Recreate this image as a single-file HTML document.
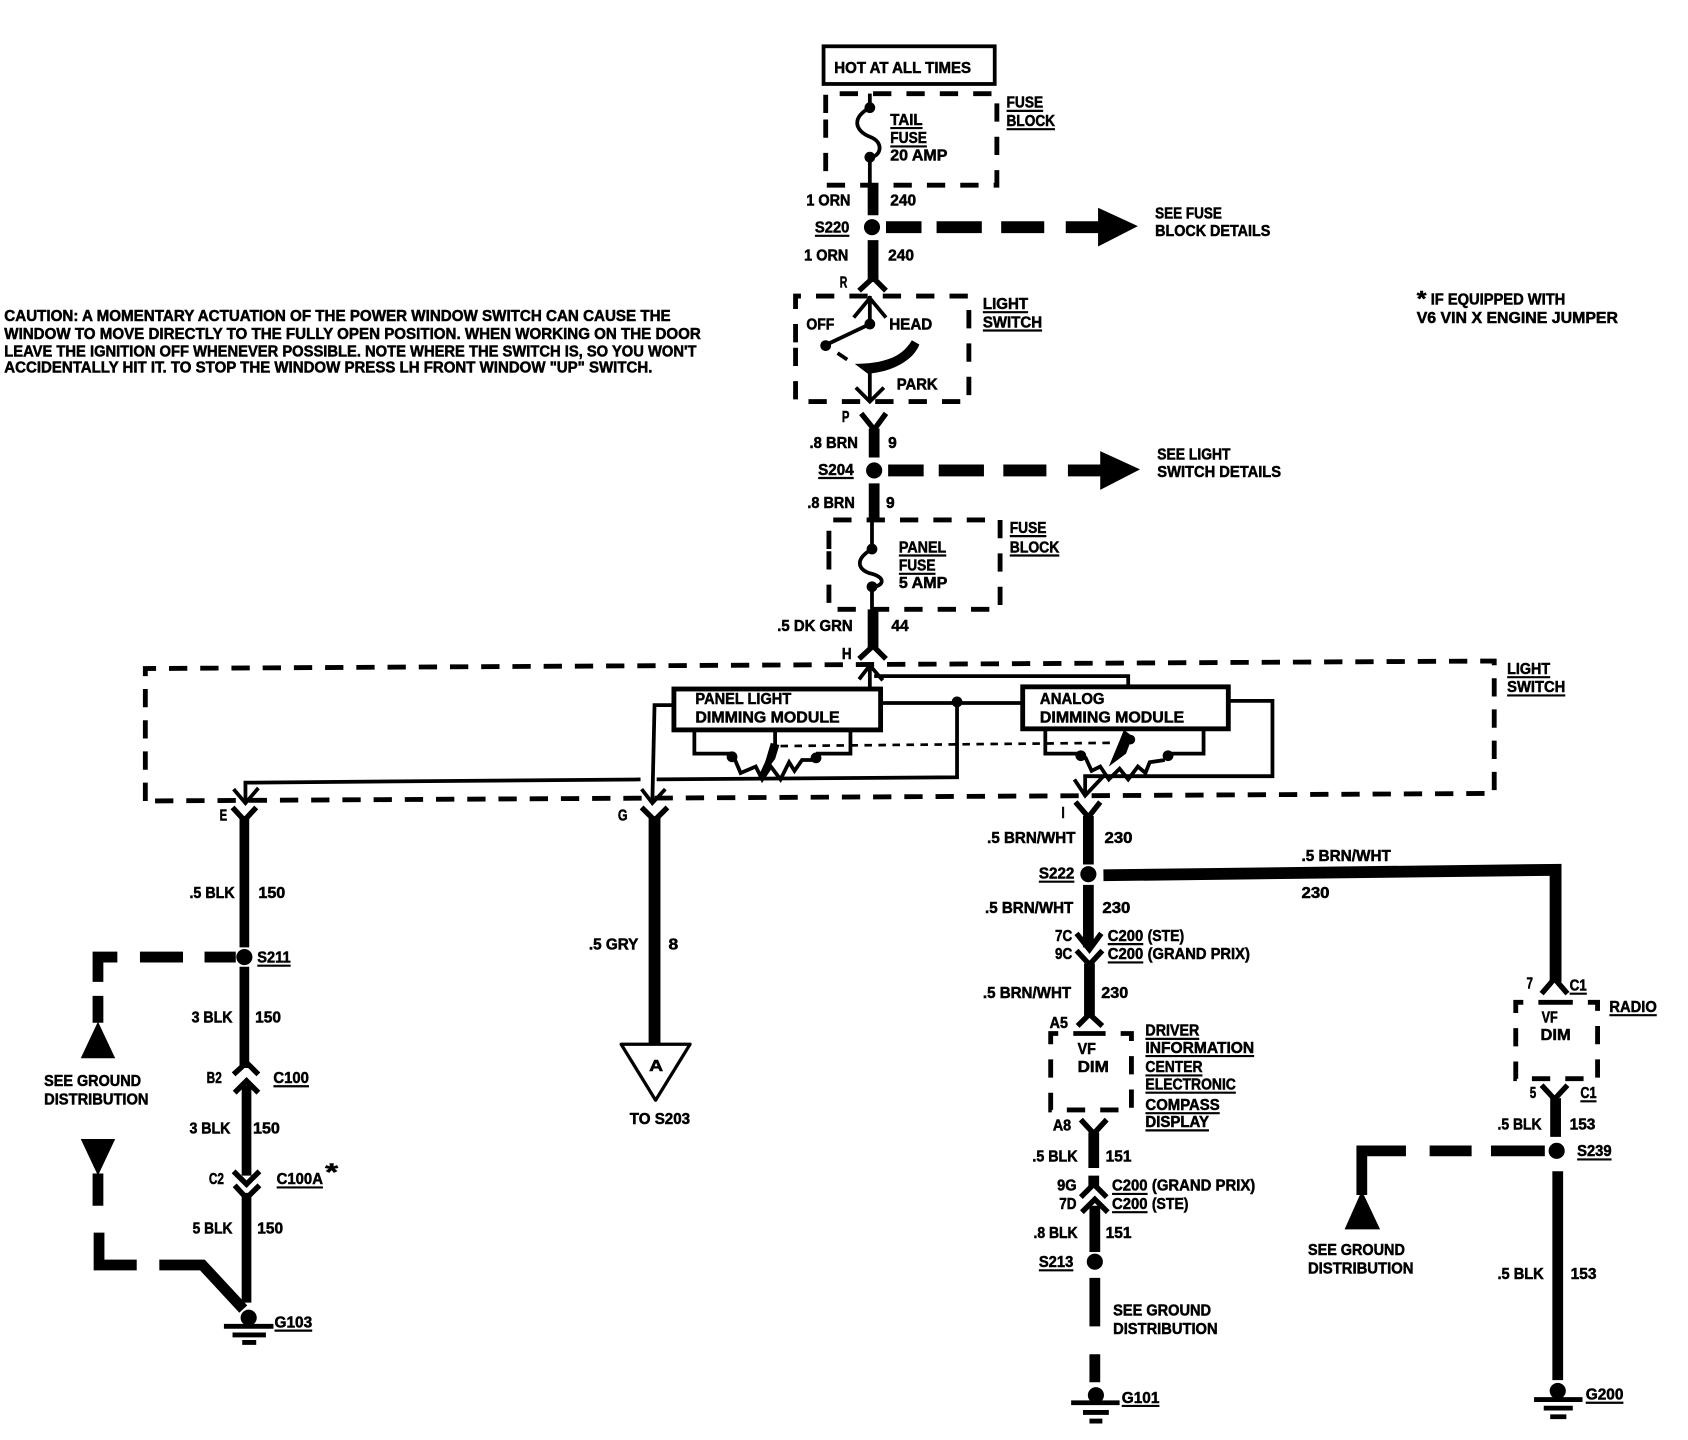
<!DOCTYPE html>
<html><head><meta charset="utf-8"><style>
html,body{margin:0;padding:0;background:#fff}
svg{display:block}
text{font-family:"Liberation Sans",sans-serif;font-weight:bold;font-size:15px;fill:#000;stroke:#000;stroke-width:.5}
.w{fill:none;stroke:#000;stroke-linecap:butt;stroke-linejoin:miter}
.t{stroke-width:10}.c{stroke-width:5}.n{stroke-width:3.5}.d{stroke-width:4.5}.u{stroke-width:2}
</style></head><body>
<svg width="1688" height="1440" viewBox="0 0 1568 1337.6" xmlns="http://www.w3.org/2000/svg" preserveAspectRatio="none">
<rect width="1568" height="1338" fill="#fff"/>
<!-- top -->
<rect x="765" y="43" width="159" height="35" class="w n"/>
<path class="w d" stroke-dasharray="17 14" d="M767 105V87H926V172H767V105"/>
<path class="w n" d="M808 87V100M808 100C790 110 795 122 808 127C822 132 818 146 808 146V172"/>
<circle cx="808" cy="100" r="5"/><circle cx="808" cy="146" r="5"/>
<path class="w t" d="M811 172V200M811 223V262"/>
<circle cx="810" cy="211" r="7.5"/>
<path class="w c" d="M798 270L811 258L823 270"/>
<path class="w" stroke-width="11" d="M823 211H856M870 211H912M930 211H970M990 211H1022"/>
<path d="M1020 193L1057 210L1020 229Z"/>
<!-- light switch -->
<path class="w d" stroke-dasharray="17 14" d="M739 318V275H900V373H739V318"/>
<path class="w n" d="M808 275V301M793 295L808 277L823 295M808 301L768 320M808 342V373M795 360L808 373L821 360"/>
<path class="w n" d="M778 328L787 334"/>
<circle cx="808" cy="301" r="5"/><circle cx="767" cy="321" r="5"/>
<path d="M847 316L854 320C848 336 826 346 806 347L794 338C820 338 838 332 847 316Z"/>
<path class="w c" d="M800 384L812 399L823 384"/>
<path class="w t" d="M812 398V425M812 449V484"/>
<circle cx="812" cy="437" r="7.5"/>
<path class="w" stroke-width="11" d="M825 437H858M872 437H914M932 437H972M992 437H1024"/>
<path d="M1022 419L1059 436L1022 455Z"/>
<!-- panel fuse -->
<path class="w d" stroke-dasharray="17 14" d="M770 510V483H929V566H770V510"/>
<path class="w n" d="M810 484V510M810 510C793 520 797 530 810 533C824 537 820 545 810 545V566"/>
<circle cx="810" cy="510" r="5"/><circle cx="810" cy="545" r="5"/>
<path class="w t" d="M811 566V603"/>
<path class="w c" d="M798 612L811 600L823 612"/>
<!-- big light switch -->
<path class="w d" stroke-dasharray="17 12" d="M135 744L135 621L1388 614L1388 737L135 744"/>
<path class="w n" d="M808 617V640M798 631L808 618L820 632M812 628H1048V638"/>
<rect x="626" y="640" width="192" height="38" class="w" stroke-width="4.5"/>
<rect x="950" y="638" width="191" height="39" class="w" stroke-width="4.5"/>
<path class="w n" d="M818 653H950M889 652V722L610 724M595 724L228 727V745M217 733L228 746L240 732M626 655H608L606 744M596 733L606 746L618 733M1141 651H1182V721H1008L1008 739M998 724L1008 739L1025 721"/>
<circle cx="889" cy="652" r="5"/>
<path class="w n" d="M645 678V700H680M790 678V700H758"/>
<circle cx="680" cy="703" r="5"/><circle cx="758" cy="704" r="5"/>
<path class="w n" d="M682 704L688 718L702 712L708 724L716 712L725 724L733 708L738 716L745 706H756"/>
<path class="w n" d="M720 678V692L706 722"/>
<path d="M716 690L724 692L720 705L706 724Z"/>
<path class="w" stroke-width="2.5" stroke-dasharray="7 6" d="M725 693L1034 690"/>
<path class="w n" d="M971 677V700H1004M1118 677V700H1085"/>
<circle cx="1004" cy="702" r="5"/><circle cx="1085" cy="702" r="5"/>
<path class="w n" d="M1008 703L1014 716L1022 712L1030 724L1040 714L1048 724L1057 712L1064 718L1068 708L1082 706"/>
<path d="M1044 678L1052 684L1046 700L1030 712L1040 688Z"/>
<circle cx="1050" cy="687" r="4.5"/>
<!-- E -->
<path class="w c" d="M216 750L227 762L238 750"/>
<path class="w" stroke-width="9" d="M227 758V880M227 898V992M229 1008V1092M229 1108V1210"/>
<circle cx="227" cy="889" r="7.5"/>
<path class="w c" d="M217 998L229 987L240 998M218 1015L229 1004L240 1015M217 1088L229 1100L241 1088M218 1101L229 1113L241 1101"/>
<path class="w" stroke-width="10" d="M219 889H190M170 889H130M109 889H91V912M91 925V950M91 1090V1120M92 1145V1175H127M148 1175H188L226 1216"/>
<path d="M75 983L107 983L91 949Z"/><path d="M75 1058L107 1058L91 1092Z"/>
<circle cx="231" cy="1224" r="7.5"/>
<path class="w d" d="M208 1232H254M216 1240H247M225 1247H238"/>
<!-- G -->
<path class="w c" d="M596 750L608 762L620 750"/>
<path class="w" stroke-width="11" d="M608 758V970"/>
<path d="M577 970H641L609 1022Z" fill="#fff" stroke="#000" stroke-width="3" stroke-linejoin="round"/>
<!-- I -->
<path class="w c" d="M999 745L1011 759L1022 745"/>
<path class="w t" d="M1011 758V803M1011 822V880M1012 895V945"/>
<circle cx="1011" cy="812" r="7.5"/>
<path class="w" stroke-width="11" d="M1025 813L1445 808V912"/>
<path class="w c" d="M1000 867L1012 882L1023 867M1000 883L1012 896L1024 883M1001 953L1012 942L1024 953M1432 923L1444 909L1456 923"/>
<path class="w d" stroke-dasharray="17 14" d="M1014 960H976V1031H1051V960H1014"/>
<path class="w c" d="M1004 1040L1016 1053L1028 1040M1004 1112L1016 1100L1028 1112M1005 1126L1017 1114L1029 1126"/>
<path class="w t" d="M1016 1052V1085M1016 1092V1102M1017 1120V1163M1017 1187V1232M1017 1258V1284"/>
<circle cx="1017" cy="1172" r="7.5"/>
<circle cx="1018" cy="1296" r="7.5"/>
<path class="w d" d="M995 1303H1040M1006 1312H1030M1012 1320H1024"/>
<!-- radio -->
<path class="w d" stroke-dasharray="17 14" d="M1446 931H1408V1002H1484V931H1446"/>
<path class="w c" d="M1432 1008L1444 1021L1456 1008"/>
<path class="w t" d="M1445 1020V1056M1447 1088V1282"/>
<circle cx="1446" cy="1069" r="7.5"/>
<path class="w" stroke-width="10" d="M1435 1069H1385M1367 1069H1328M1306 1069H1265V1110"/>
<path d="M1249 1142L1265 1106L1282 1142Z"/>
<circle cx="1447" cy="1292" r="7.5"/>
<path class="w d" d="M1425 1300H1470M1434 1308H1461M1440 1316H1455"/>
<!-- underlines -->
<path class="w u" d="M935 103H969M935 120H980M827 119H857M827 136H861M757 219H789M913 290H955M913 307H968M760 444H793M938 498H972M938 516H984M835 516H879M835 533H869M1400 629H1440M1400 646H1454M239 897H270M254 1009H287M257 1103H300M255 1236H290M965 819H998M1029 877H1062M1029 894H1062M1064 965H1114M1064 981H1165M1064 999H1117M1064 1015H1148M1064 1034H1133M1064 1050H1123M1033 1109H1066M1033 1126H1066M965 1180H997M1042 1306H1077M1458 923H1474M1495 943H1539M1468 1023H1483M1465 1077H1497M1473 1303H1508"/>
<!-- text -->
<text x="775" y="68" textLength="127" lengthAdjust="spacingAndGlyphs">HOT AT ALL TIMES</text>
<text x="935" y="100" textLength="34" lengthAdjust="spacingAndGlyphs">FUSE</text>
<text x="935" y="117" textLength="45" lengthAdjust="spacingAndGlyphs">BLOCK</text>
<text x="827" y="116" textLength="30" lengthAdjust="spacingAndGlyphs">TAIL</text>
<text x="827" y="133" textLength="34" lengthAdjust="spacingAndGlyphs">FUSE</text>
<text x="827" y="149" textLength="53" lengthAdjust="spacingAndGlyphs">20 AMP</text>
<text x="749" y="191" textLength="41" lengthAdjust="spacingAndGlyphs">1 ORN</text>
<text x="827" y="191" textLength="24" lengthAdjust="spacingAndGlyphs">240</text>
<text x="757" y="216" textLength="32" lengthAdjust="spacingAndGlyphs">S220</text>
<text x="747" y="242" textLength="41" lengthAdjust="spacingAndGlyphs">1 ORN</text>
<text x="825" y="242" textLength="24" lengthAdjust="spacingAndGlyphs">240</text>
<text x="780" y="267" textLength="7" lengthAdjust="spacingAndGlyphs">R</text>
<text x="1073" y="203" textLength="62" lengthAdjust="spacingAndGlyphs">SEE FUSE</text>
<text x="1073" y="219" textLength="107" lengthAdjust="spacingAndGlyphs">BLOCK DETAILS</text>
<text x="913" y="287" textLength="42" lengthAdjust="spacingAndGlyphs">LIGHT</text>
<text x="913" y="304" textLength="55" lengthAdjust="spacingAndGlyphs">SWITCH</text>
<text x="749" y="306" textLength="26" lengthAdjust="spacingAndGlyphs">OFF</text>
<text x="826" y="306" textLength="40" lengthAdjust="spacingAndGlyphs">HEAD</text>
<text x="833" y="362" textLength="38" lengthAdjust="spacingAndGlyphs">PARK</text>
<text x="782" y="392" textLength="7" lengthAdjust="spacingAndGlyphs">P</text>
<text x="752" y="416" textLength="45" lengthAdjust="spacingAndGlyphs">.8 BRN</text>
<text x="825" y="416" textLength="8" lengthAdjust="spacingAndGlyphs">9</text>
<text x="760" y="441" textLength="33" lengthAdjust="spacingAndGlyphs">S204</text>
<text x="750" y="472" textLength="44" lengthAdjust="spacingAndGlyphs">.8 BRN</text>
<text x="823" y="472" textLength="8" lengthAdjust="spacingAndGlyphs">9</text>
<text x="1075" y="427" textLength="68" lengthAdjust="spacingAndGlyphs">SEE LIGHT</text>
<text x="1075" y="443" textLength="115" lengthAdjust="spacingAndGlyphs">SWITCH DETAILS</text>
<text x="938" y="495" textLength="34" lengthAdjust="spacingAndGlyphs">FUSE</text>
<text x="938" y="513" textLength="46" lengthAdjust="spacingAndGlyphs">BLOCK</text>
<text x="835" y="513" textLength="44" lengthAdjust="spacingAndGlyphs">PANEL</text>
<text x="835" y="530" textLength="34" lengthAdjust="spacingAndGlyphs">FUSE</text>
<text x="835" y="546" textLength="45" lengthAdjust="spacingAndGlyphs">5 AMP</text>
<text x="722" y="586" textLength="70" lengthAdjust="spacingAndGlyphs">.5 DK GRN</text>
<text x="828" y="586" textLength="16" lengthAdjust="spacingAndGlyphs">44</text>
<text x="782" y="612" textLength="9" lengthAdjust="spacingAndGlyphs">H</text>
<text x="1400" y="626" textLength="40" lengthAdjust="spacingAndGlyphs">LIGHT</text>
<text x="1400" y="643" textLength="54" lengthAdjust="spacingAndGlyphs">SWITCH</text>
<text x="646" y="654" textLength="89" lengthAdjust="spacingAndGlyphs">PANEL LIGHT</text>
<text x="646" y="671" textLength="134" lengthAdjust="spacingAndGlyphs">DIMMING MODULE</text>
<text x="966" y="654" textLength="60" lengthAdjust="spacingAndGlyphs">ANALOG</text>
<text x="966" y="671" textLength="134" lengthAdjust="spacingAndGlyphs">DIMMING MODULE</text>
<text x="1316" y="284" textLength="9" lengthAdjust="spacingAndGlyphs" style="font-size:20px">*</text>
<text x="1329" y="283" textLength="125" lengthAdjust="spacingAndGlyphs">IF EQUIPPED WITH</text>
<text x="1316" y="300" textLength="187" lengthAdjust="spacingAndGlyphs">V6 VIN X ENGINE JUMPER</text>
<text x="4" y="298" textLength="619" lengthAdjust="spacingAndGlyphs">CAUTION: A MOMENTARY ACTUATION OF THE POWER WINDOW SWITCH CAN CAUSE THE</text>
<text x="4" y="315" textLength="647" lengthAdjust="spacingAndGlyphs">WINDOW TO MOVE DIRECTLY TO THE  FULLY OPEN POSITION. WHEN WORKING ON THE DOOR</text>
<text x="4" y="331" textLength="643" lengthAdjust="spacingAndGlyphs">LEAVE THE IGNITION OFF WHENEVER POSSIBLE. NOTE WHERE THE SWITCH IS, SO YOU WON'T</text>
<text x="4" y="346" textLength="602" lengthAdjust="spacingAndGlyphs">ACCIDENTALLY HIT IT. TO STOP THE WINDOW PRESS LH FRONT WINDOW "UP" SWITCH.</text>
<text x="204" y="762" textLength="7" lengthAdjust="spacingAndGlyphs">E</text>
<text x="574" y="762" textLength="9" lengthAdjust="spacingAndGlyphs">G</text>
<text x="986" y="760" textLength="3" lengthAdjust="spacingAndGlyphs">I</text>
<text x="176" y="834" textLength="42" lengthAdjust="spacingAndGlyphs">.5 BLK</text>
<text x="240" y="834" textLength="25" lengthAdjust="spacingAndGlyphs">150</text>
<text x="239" y="894" textLength="31" lengthAdjust="spacingAndGlyphs">S211</text>
<text x="178" y="950" textLength="38" lengthAdjust="spacingAndGlyphs">3 BLK</text>
<text x="237" y="950" textLength="24" lengthAdjust="spacingAndGlyphs">150</text>
<text x="192" y="1006" textLength="14" lengthAdjust="spacingAndGlyphs">B2</text>
<text x="254" y="1006" textLength="33" lengthAdjust="spacingAndGlyphs">C100</text>
<text x="176" y="1053" textLength="38" lengthAdjust="spacingAndGlyphs">3 BLK</text>
<text x="235" y="1053" textLength="25" lengthAdjust="spacingAndGlyphs">150</text>
<text x="194" y="1100" textLength="14" lengthAdjust="spacingAndGlyphs">C2</text>
<text x="257" y="1100" textLength="43" lengthAdjust="spacingAndGlyphs">C100A</text>
<text x="302" y="1096" textLength="12" lengthAdjust="spacingAndGlyphs" style="font-size:22px">*</text>
<text x="179" y="1146" textLength="37" lengthAdjust="spacingAndGlyphs">5 BLK</text>
<text x="239" y="1146" textLength="24" lengthAdjust="spacingAndGlyphs">150</text>
<text x="255" y="1233" textLength="35" lengthAdjust="spacingAndGlyphs">G103</text>
<text x="41" y="1009" textLength="90" lengthAdjust="spacingAndGlyphs">SEE GROUND</text>
<text x="41" y="1026" textLength="97" lengthAdjust="spacingAndGlyphs">DISTRIBUTION</text>
<text x="547" y="882" textLength="46" lengthAdjust="spacingAndGlyphs">.5 GRY</text>
<text x="621" y="882" textLength="9" lengthAdjust="spacingAndGlyphs">8</text>
<text x="603" y="995" textLength="13" lengthAdjust="spacingAndGlyphs">A</text>
<text x="585" y="1044" textLength="56" lengthAdjust="spacingAndGlyphs">TO S203</text>
<text x="917" y="783" textLength="82" lengthAdjust="spacingAndGlyphs">.5 BRN/WHT</text>
<text x="1026" y="783" textLength="26" lengthAdjust="spacingAndGlyphs">230</text>
<text x="965" y="816" textLength="33" lengthAdjust="spacingAndGlyphs">S222</text>
<text x="1209" y="800" textLength="83" lengthAdjust="spacingAndGlyphs">.5 BRN/WHT</text>
<text x="1209" y="834" textLength="26" lengthAdjust="spacingAndGlyphs">230</text>
<text x="915" y="848" textLength="82" lengthAdjust="spacingAndGlyphs">.5 BRN/WHT</text>
<text x="1024" y="848" textLength="26" lengthAdjust="spacingAndGlyphs">230</text>
<text x="980" y="874" textLength="16" lengthAdjust="spacingAndGlyphs">7C</text>
<text x="1029" y="874" textLength="33" lengthAdjust="spacingAndGlyphs">C200</text>
<text x="1066" y="874" textLength="34" lengthAdjust="spacingAndGlyphs">(STE)</text>
<text x="980" y="891" textLength="16" lengthAdjust="spacingAndGlyphs">9C</text>
<text x="1029" y="891" textLength="33" lengthAdjust="spacingAndGlyphs">C200</text>
<text x="1066" y="891" textLength="95" lengthAdjust="spacingAndGlyphs">(GRAND PRIX)</text>
<text x="913" y="927" textLength="82" lengthAdjust="spacingAndGlyphs">.5 BRN/WHT</text>
<text x="1023" y="927" textLength="25" lengthAdjust="spacingAndGlyphs">230</text>
<text x="975" y="955" textLength="17" lengthAdjust="spacingAndGlyphs">A5</text>
<text x="1001" y="979" textLength="17" lengthAdjust="spacingAndGlyphs">VF</text>
<text x="1001" y="996" textLength="29" lengthAdjust="spacingAndGlyphs">DIM</text>
<text x="1064" y="962" textLength="50" lengthAdjust="spacingAndGlyphs">DRIVER</text>
<text x="1064" y="978" textLength="101" lengthAdjust="spacingAndGlyphs">INFORMATION</text>
<text x="1064" y="996" textLength="53" lengthAdjust="spacingAndGlyphs">CENTER</text>
<text x="1064" y="1012" textLength="84" lengthAdjust="spacingAndGlyphs">ELECTRONIC</text>
<text x="1064" y="1031" textLength="69" lengthAdjust="spacingAndGlyphs">COMPASS</text>
<text x="1064" y="1047" textLength="59" lengthAdjust="spacingAndGlyphs">DISPLAY</text>
<text x="978" y="1050" textLength="17" lengthAdjust="spacingAndGlyphs">A8</text>
<text x="959" y="1079" textLength="42" lengthAdjust="spacingAndGlyphs">.5 BLK</text>
<text x="1027" y="1079" textLength="24" lengthAdjust="spacingAndGlyphs">151</text>
<text x="982" y="1106" textLength="18" lengthAdjust="spacingAndGlyphs">9G</text>
<text x="1033" y="1106" textLength="33" lengthAdjust="spacingAndGlyphs">C200</text>
<text x="1070" y="1106" textLength="96" lengthAdjust="spacingAndGlyphs">(GRAND PRIX)</text>
<text x="984" y="1123" textLength="16" lengthAdjust="spacingAndGlyphs">7D</text>
<text x="1033" y="1123" textLength="33" lengthAdjust="spacingAndGlyphs">C200</text>
<text x="1070" y="1123" textLength="34" lengthAdjust="spacingAndGlyphs">(STE)</text>
<text x="960" y="1150" textLength="41" lengthAdjust="spacingAndGlyphs">.8 BLK</text>
<text x="1027" y="1150" textLength="24" lengthAdjust="spacingAndGlyphs">151</text>
<text x="965" y="1177" textLength="32" lengthAdjust="spacingAndGlyphs">S213</text>
<text x="1034" y="1222" textLength="91" lengthAdjust="spacingAndGlyphs">SEE GROUND</text>
<text x="1034" y="1239" textLength="97" lengthAdjust="spacingAndGlyphs">DISTRIBUTION</text>
<text x="1042" y="1303" textLength="35" lengthAdjust="spacingAndGlyphs">G101</text>
<text x="1418" y="918" textLength="6" lengthAdjust="spacingAndGlyphs">7</text>
<text x="1458" y="920" textLength="16" lengthAdjust="spacingAndGlyphs">C1</text>
<text x="1432" y="950" textLength="15" lengthAdjust="spacingAndGlyphs">VF</text>
<text x="1431" y="966" textLength="28" lengthAdjust="spacingAndGlyphs">DIM</text>
<text x="1495" y="940" textLength="44" lengthAdjust="spacingAndGlyphs">RADIO</text>
<text x="1421" y="1020" textLength="6" lengthAdjust="spacingAndGlyphs">5</text>
<text x="1468" y="1020" textLength="15" lengthAdjust="spacingAndGlyphs">C1</text>
<text x="1391" y="1049" textLength="41" lengthAdjust="spacingAndGlyphs">.5 BLK</text>
<text x="1458" y="1049" textLength="24" lengthAdjust="spacingAndGlyphs">153</text>
<text x="1465" y="1074" textLength="32" lengthAdjust="spacingAndGlyphs">S239</text>
<text x="1215" y="1166" textLength="90" lengthAdjust="spacingAndGlyphs">SEE GROUND</text>
<text x="1215" y="1183" textLength="98" lengthAdjust="spacingAndGlyphs">DISTRIBUTION</text>
<text x="1391" y="1188" textLength="43" lengthAdjust="spacingAndGlyphs">.5 BLK</text>
<text x="1459" y="1188" textLength="24" lengthAdjust="spacingAndGlyphs">153</text>
<text x="1473" y="1300" textLength="35" lengthAdjust="spacingAndGlyphs">G200</text>
</svg>
</body></html>
